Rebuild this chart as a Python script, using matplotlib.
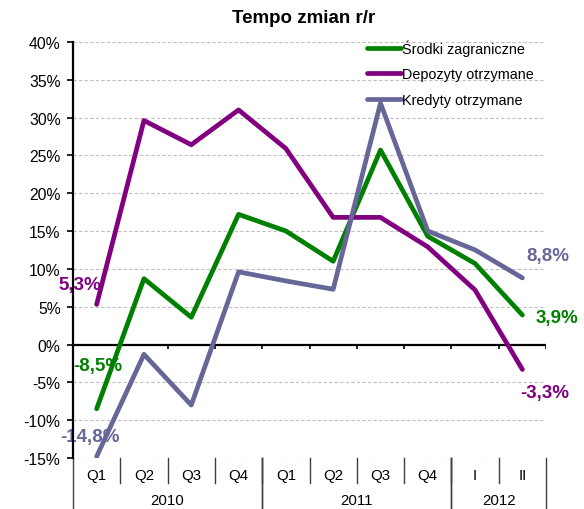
import matplotlib.pyplot as plt
import matplotlib.transforms as mtransforms
import numpy as np

plt.rcParams['font.family'] = ['Liberation Sans', 'DejaVu Sans']

periods = ["Q1", "Q2", "Q3", "Q4", "Q1", "Q2", "Q3", "Q4", "I", "II"]
years = ["2010", "2011", "2012"]
year_spans = [(0, 4), (4, 8), (8, 10)]

srodki = [-8.5, 8.7, 3.6, 17.2, 15.0, 11.0, 25.7, 14.3, 10.7, 3.9]
depozyty = [5.3, 29.6, 26.4, 31.0, 25.9, 16.8, 16.8, 12.9, 7.2, -3.3]
kredyty = [-14.8, -1.3, -8.0, 9.6, 8.4, 7.3, 31.9, 15.0, 12.5, 8.8]

names = ["Środki zagraniczne", "Depozyty otrzymane", "Kredyty otrzymane"]
colors = ["#008000", "#800080", "#666699"]
yticks = np.arange(-15, 41, 5)

fig = plt.figure(figsize=(5.84, 5.10), dpi=100)
ax = fig.add_axes([0.125, 0.1, 0.81, 0.816])

x = np.arange(len(periods)) + 0.5
for vals, name, c in zip([srodki, depozyty, kredyty], names, colors):
    ax.plot(x, vals, color=c, lw=3.4, label=name, solid_capstyle="round", zorder=3)

ax.set_xlim(0, len(periods))
ax.set_ylim(-15, 40)
ax.set_yticks(yticks)
ax.set_yticklabels([f"{v}%" for v in yticks], fontsize=11.3)
ax.set_xticks([])
for v in yticks:
    if v != 0:
        ax.axhline(v, color="#BFBFBF", lw=0.8, ls=(0, (3, 2)), zorder=1)
ax.axhline(0, color="black", lw=1.6, zorder=2)
ax.vlines(np.arange(1, len(periods) + 1), -0.6, 0, color="black", lw=1.2)

for s in ["top", "right", "bottom"]:
    ax.spines[s].set_visible(False)
ax.spines["left"].set_linewidth(1.6)
ax.tick_params(axis="y", length=4.5, width=1.2, pad=4.5)

# category axis under the plot
trans = mtransforms.blended_transform_factory(ax.transData, ax.transAxes)
for i, p in enumerate(periods):
    ax.text(i + 0.5, -0.04, p, transform=trans, ha="center", va="center", fontsize=10.8)
for i in range(1, len(periods)):
    ax.plot([i, i], [0, -0.06], transform=trans, color="#404040", lw=1, clip_on=False)
for yr, (a, b) in zip(years, year_spans):
    ax.text((a + b) / 2, -0.102, yr, transform=trans, ha="center", va="center", fontsize=10.8)
    for e in (a, b):
        ax.plot([e, e], [0, -0.14], transform=trans, color="#404040", lw=1, clip_on=False)

# data labels for first and last points
lab = dict(fontsize=13.5, fontweight="bold", ha="center", va="center", zorder=2)
ax.text(0.15, 7.9, "5,3%", color=colors[1], **lab)
ax.text(0.53, -2.8, "-8,5%", color=colors[0], **lab)
ax.text(0.36, -12.2, "-14,8%", color=colors[2], clip_on=False, **lab)
ax.text(10.04, 11.8, "8,8%", color=colors[2], clip_on=False, **lab)
ax.text(10.23, 3.6, "3,9%", color=colors[0], clip_on=False, **lab)
ax.text(9.98, -6.4, "-3,3%", color=colors[1], clip_on=False, **lab)

ax.legend(loc="upper left", bbox_to_anchor=(0.61, 1.02), frameon=False,
          fontsize=10.4, handlelength=2.3, handletextpad=0.12, labelspacing=0.8,
          borderaxespad=0)

fig.text(0.52, 0.963, "Tempo zmian r/r", ha="center", va="center",
         fontsize=13.5, fontweight="bold")

fig.savefig("out.png", dpi=100)
